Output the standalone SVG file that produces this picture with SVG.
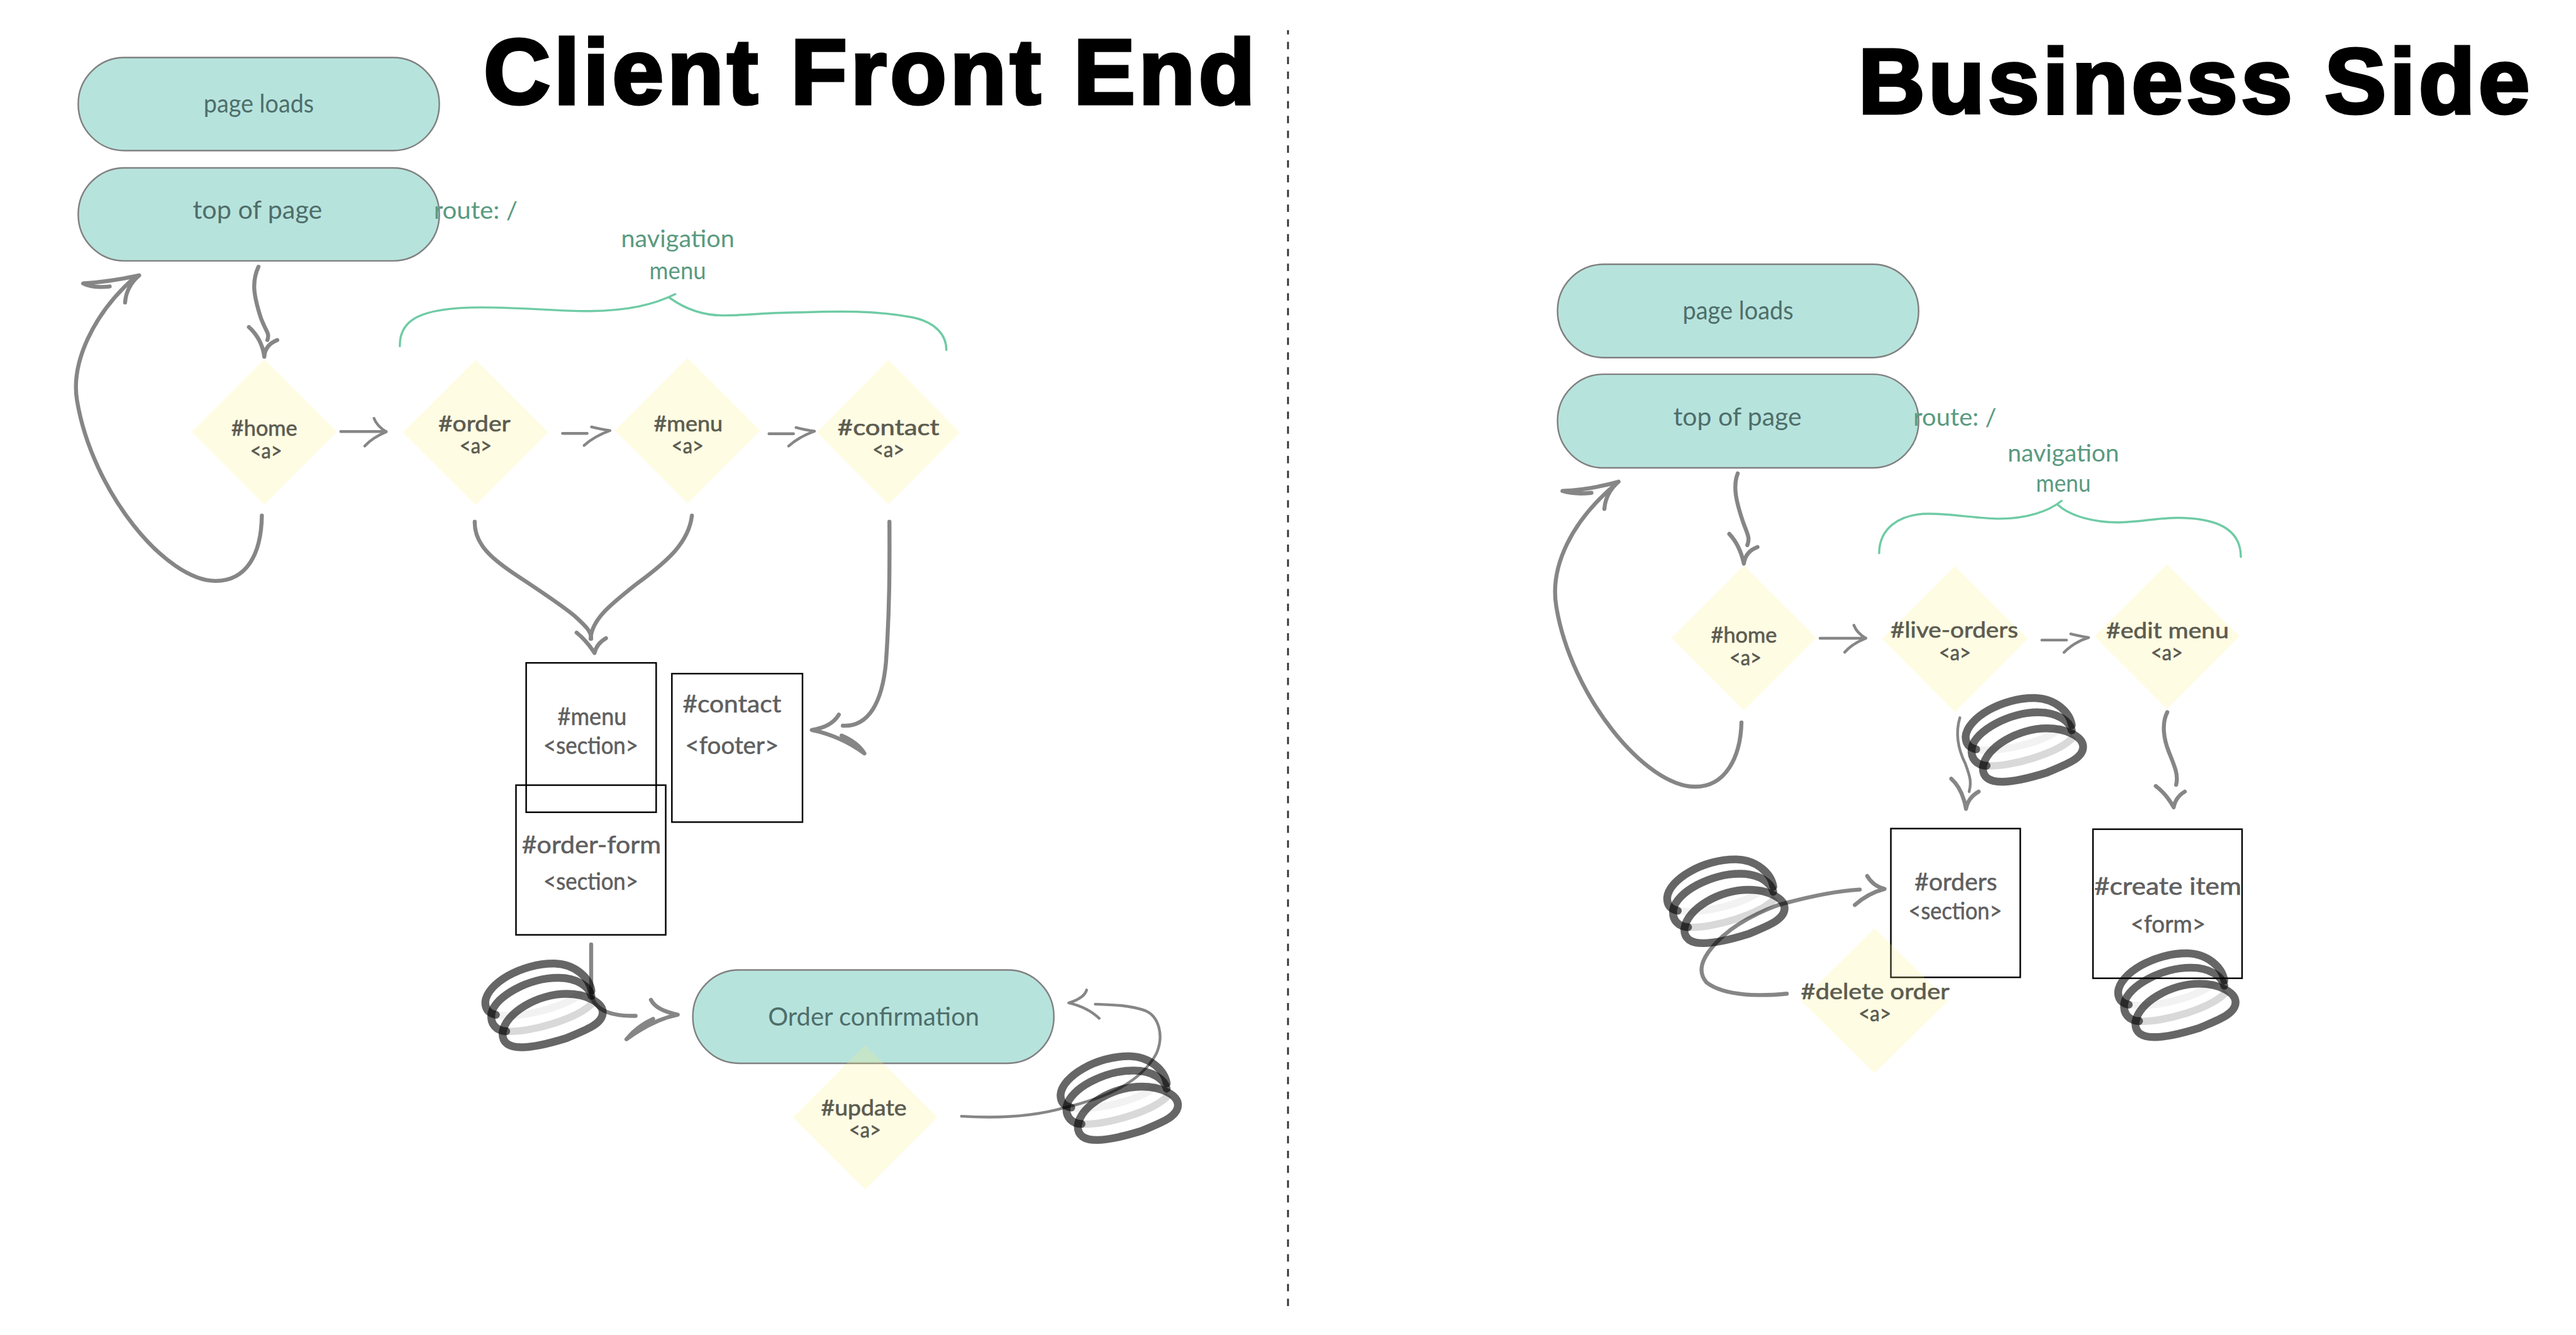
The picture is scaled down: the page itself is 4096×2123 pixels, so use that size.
<svg xmlns="http://www.w3.org/2000/svg" width="4096" height="2123" viewBox="0 0 4096 2123">
<style>
.pill{fill:#b7e3dd;stroke:#808080;stroke-width:2.5}
.dia{fill:#fff176;fill-opacity:.2}
.box{fill:none;stroke:#000;stroke-width:2.5}
.c{fill:none;stroke:#868686;stroke-width:6.5;stroke-linecap:round;stroke-linejoin:round}
.t{stroke-width:4.5}
.b{fill:none;stroke:#6fcba5;stroke-width:3.5;stroke-linecap:round}
.s{fill:none;stroke:#000;stroke-opacity:.6;stroke-width:38;stroke-linecap:round;stroke-linejoin:round}
text{font-family:"Lato","Liberation Sans",sans-serif;font-size:36px;text-anchor:middle}
.tp{fill:#4e6e6a;font-size:42px}
.td{fill:#5c5c50;stroke:#5c5c50;stroke-width:.7}
.tr{fill:#5f5f5f;stroke:#5f5f5f;stroke-width:.6;font-size:40px}
.tg{fill:#5a9a80;font-size:40px}
.title{font-family:"Liberation Sans",Arial,sans-serif;font-weight:700;font-size:150px;fill:#000;stroke:#000;stroke-width:5;text-anchor:start}
</style>
<defs>
<g id="blob" transform="scale(.3333) translate(-370,-306)">
<path d="M130,352C250,370 480,320 570,230" fill="none" stroke="#000" stroke-opacity=".05" stroke-width="36"/>
<path d="M185,432C300,440 540,370 610,290" fill="none" stroke="#000" stroke-opacity=".15" stroke-width="36"/>
<path class="s" d="M135,352C100,345 83,325 83,290C90,200 260,100 420,102C520,105 590,170 600,235"/>
<path class="s" d="M185,432C140,430 105,400 113,345C130,260 300,170 440,172C530,172 590,215 600,260"/>
<path class="s" d="M167,440C180,340 340,250 480,250C570,250 655,290 655,340C655,400 560,430 480,465C400,490 320,510 260,510C200,510 165,490 167,440Z"/>
</g>
</defs>
<rect width="4096" height="2123" fill="#fff"/>
<g transform="scale(.97967)">
<g id="titles">
<text class="title" x="785" y="168.500" textLength="1252" lengthAdjust="spacing">Client Front End</text>
<text class="title" x="3016" y="183.500" textLength="1090" lengthAdjust="spacing">Business Side</text>
<path d="M2090.5,49V2124" fill="none" stroke="#333" stroke-width="3" stroke-dasharray="12 12" stroke-dashoffset="5"/>
</g>
<g id="connectors">
<path class="c" d="M419.5,433C408,458 412,480 423,515C432,540 438,540 434,552M404,531Q425,550 429,579Q430,560 450,552"/>
<path class="c" d="M425,837C424,900 400,943 350,943C270,943 150,800 125,650C115,590 150,510 220,449M178,465Q150,468 135,460Q175,458 226,447Q205,465 203,491"/>
<path class="c t" d="M553,700.5H627M607,679Q612,692 627,701Q605,710 592,724"/>
<path class="c t" d="M913,703.5H953M960,693Q972,696 990,699Q965,708 948,723"/>
<path class="c t" d="M1248,704H1288M1292,694Q1304,697 1322,700Q1297,709 1280,724"/>
<path class="c" d="M770.5,847C770,884 800,908 832.6,930C870,955 915,984 935,1002C950,1016 960,1025 959.5,1037"/>
<path class="c" d="M1123,837C1118,880 1085,910 1031.6,949C990,982 960,1006 958.6,1037M936,1027Q952,1040 965,1060Q968,1045 983.5,1036"/>
<path class="c" d="M1443.6,847C1444,920 1444,990 1438,1075C1432,1140 1410,1180 1368,1178M1361.5,1160Q1350,1180 1317.6,1185Q1365,1195 1403,1223Q1392,1205 1366,1194"/>
<path class="c" d="M959.5,1533V1611C962,1635 982,1650 1031.6,1649M1056.5,1623Q1065,1640 1100,1647Q1060,1655 1016.7,1687Q1035,1665 1060,1654"/>
<path class="c t" d="M1560.5,1812C1610,1815 1670,1815 1728,1798C1790,1783 1850,1760 1877,1710C1890,1680 1880,1650 1860,1641C1835,1632 1810,1631 1777.7,1630M1763.6,1607Q1760,1620 1734.6,1628Q1765,1635 1784,1653"/>
<path class="c" d="M2820.4,768.5C2812,790 2818,815 2830,850C2838,870 2840,875 2836,885M2806.7,866.6Q2824,885 2830.4,915Q2833,895 2852.6,888"/>
<path class="c" d="M2826.5,1172.7C2825,1230 2800,1277 2751.6,1277C2670,1277 2550,1130 2526,985C2515,920 2550,845 2627,782M2583,800Q2555,803 2536,797Q2580,795 2627,782Q2606,800 2604,826"/>
<path class="c t" d="M2954,1036H3028M3009,1015Q3014,1028 3028.5,1036Q3006,1045 2994,1058.7"/>
<path class="c t" d="M3314,1039H3354M3361,1029Q3373,1032 3390,1035Q3367,1042 3350,1059"/>
<path class="c t" d="M3181,1165C3172,1195 3180,1220 3190,1240C3198,1262 3200,1270 3196,1285"/>
<path class="c" d="M3167,1264Q3185,1280 3191,1313Q3194,1295 3211.5,1285"/>
<path class="c" d="M3517.6,1156C3508,1175 3512,1200 3520,1220C3530,1245 3536,1258 3532,1274M3499,1276Q3517,1290 3528,1310.5Q3531,1294 3546,1285"/>
<path class="c" d="M2900,1613C2860,1617 2800,1618 2770,1595C2755,1578 2758,1555 2797,1519C2830,1490 2880,1470 2898,1466C2950,1452 2985,1446 3018.5,1444M3030.6,1422Q3040,1438 3058.7,1443Q3032,1450 3010.5,1469"/>
</g>
<g id="brace-left"><path class="b" d="M649,562C648,520 680,499 781.5,499C860,499 910,506 957,505C1020,504 1060,495 1096,477.5M1087,483.6C1110,500 1140,512 1173,512C1210,512 1250,507 1300,507C1360,505 1420,504 1480,515C1520,523 1536,545 1536,568"/></g>
<g id="brace-right"><path class="b" d="M3050,898C3050,860 3080,834 3130,834C3170,834 3210,842 3245,842C3290,842 3325,830 3346,813M3340.6,820C3360,838 3400,848 3436,848C3470,848 3505,840 3536,840.6C3600,841 3637,860 3637,904"/></g>

<g id="page-loads-left"><rect class="pill" x="127" y="93.500" width="586" height="151" rx="75"/><text class="tp" x="420" y="183" textLength="179" lengthAdjust="spacingAndGlyphs">page loads</text></g>
<g id="top-of-page-left"><rect class="pill" x="127" y="272.500" width="586" height="151" rx="75"/><text class="tp" x="418" y="355" textLength="210" lengthAdjust="spacingAndGlyphs">top of page</text></g>
<g id="route-left"><text class="tg" x="772" y="355" textLength="136" lengthAdjust="spacingAndGlyphs">route: /</text></g>
<g id="nav-left"><text class="tg" x="1100" y="401" textLength="184" lengthAdjust="spacingAndGlyphs">navigation</text><text class="tg" x="1100" y="453" textLength="92" lengthAdjust="spacingAndGlyphs">menu</text></g>
<g id="home-left"><path class="dia" d="M429,583L547,701L429,819L311,701Z"/><text class="td" x="429" y="707" textLength="107" lengthAdjust="spacingAndGlyphs">#home</text><text class="td" x="432" y="744" textLength="52" lengthAdjust="spacingAndGlyphs">&lt;a&gt;</text></g>
<g id="order-left"><path class="dia" d="M772,584L890,702L772,820L654,702Z"/><text class="td" x="770" y="700" textLength="117" lengthAdjust="spacingAndGlyphs">#order</text><text class="td" x="772" y="736" textLength="52" lengthAdjust="spacingAndGlyphs">&lt;a&gt;</text></g>
<g id="menu-left"><path class="dia" d="M1116,581L1234,699L1116,817L998,699Z"/><text class="td" x="1117" y="700" textLength="112" lengthAdjust="spacingAndGlyphs">#menu</text><text class="td" x="1116" y="736" textLength="52" lengthAdjust="spacingAndGlyphs">&lt;a&gt;</text></g>
<g id="contact-left"><path class="dia" d="M1442,584L1558,702L1442,819L1326,702Z"/><text class="td" x="1442" y="706" textLength="165" lengthAdjust="spacingAndGlyphs">#contact</text><text class="td" x="1442" y="742" textLength="52" lengthAdjust="spacingAndGlyphs">&lt;a&gt;</text></g>
<g id="menu-section"><rect class="box" x="854" y="1076" width="211" height="242.5"/><text class="tr" x="961" y="1177" textLength="112" lengthAdjust="spacingAndGlyphs">#menu</text><text class="tr" x="959" y="1224" textLength="154" lengthAdjust="spacingAndGlyphs">&lt;section&gt;</text></g>
<g id="contact-footer"><rect class="box" x="1090.5" y="1093.500" width="212" height="241"/><text class="tr" x="1188" y="1157" textLength="160" lengthAdjust="spacingAndGlyphs">#contact</text><text class="tr" x="1188" y="1224" textLength="152" lengthAdjust="spacingAndGlyphs">&lt;footer&gt;</text></g>
<g id="order-form"><rect class="box" x="837.5" y="1274.500" width="243" height="243"/><text class="tr" x="960" y="1385" textLength="226" lengthAdjust="spacingAndGlyphs">#order-form</text><text class="tr" x="959" y="1444" textLength="154" lengthAdjust="spacingAndGlyphs">&lt;section&gt;</text></g>
<g id="order-confirmation"><rect class="pill" x="1124.5" y="1574.500" width="586" height="151.500" rx="75"/><text class="tp" x="1418" y="1665" textLength="343" lengthAdjust="spacingAndGlyphs">Order confirmation</text></g>
<g id="update"><path class="dia" d="M1404,1696.500L1521.500,1814L1404,1931L1287,1814Z"/><text class="td" x="1402" y="1811" textLength="139" lengthAdjust="spacingAndGlyphs">#update</text><text class="td" x="1404" y="1847" textLength="52" lengthAdjust="spacingAndGlyphs">&lt;a&gt;</text></g>
<use id="db-order" href="#blob" x="883.300" y="1632"/>
<use id="db-update" href="#blob" x="1817" y="1782.500"/>

<g id="page-loads-right"><rect class="pill" x="2528" y="429" width="586" height="151.500" rx="75"/><text class="tp" x="2821" y="519" textLength="180" lengthAdjust="spacingAndGlyphs">page loads</text></g>
<g id="top-of-page-right"><rect class="pill" x="2528" y="607.500" width="586" height="152" rx="75"/><text class="tp" x="2820" y="691" textLength="208" lengthAdjust="spacingAndGlyphs">top of page</text></g>
<g id="route-right"><text class="tg" x="3173" y="691" textLength="135" lengthAdjust="spacingAndGlyphs">route: /</text></g>
<g id="nav-right"><text class="tg" x="3349" y="749" textLength="181" lengthAdjust="spacingAndGlyphs">navigation</text><text class="tg" x="3349" y="798" textLength="89" lengthAdjust="spacingAndGlyphs">menu</text></g>
<g id="home-right"><path class="dia" d="M2830.500,918L2948,1035.500L2830.500,1153L2713,1035.500Z"/><text class="td" x="2830.500" y="1043" textLength="107" lengthAdjust="spacingAndGlyphs">#home</text><text class="td" x="2833" y="1080" textLength="52" lengthAdjust="spacingAndGlyphs">&lt;a&gt;</text></g>
<g id="live-orders"><path class="dia" d="M3173,919L3291,1037L3173,1156L3055,1037Z"/><text class="td" x="3172" y="1035.500" textLength="207" lengthAdjust="spacingAndGlyphs">#live-orders</text><text class="td" x="3173" y="1072" textLength="52" lengthAdjust="spacingAndGlyphs">&lt;a&gt;</text></g>
<g id="edit-menu"><path class="dia" d="M3517,916L3635,1033L3517,1151L3399.500,1033Z"/><text class="td" x="3518" y="1036" textLength="199" lengthAdjust="spacingAndGlyphs">#edit menu</text><text class="td" x="3517" y="1072" textLength="52" lengthAdjust="spacingAndGlyphs">&lt;a&gt;</text></g>
<g id="orders-section"><rect class="box" x="3069" y="1345" width="210" height="241.500"/><text class="tr" x="3174.500" y="1445" textLength="134" lengthAdjust="spacingAndGlyphs">#orders</text><text class="tr" x="3173.500" y="1492.500" textLength="152" lengthAdjust="spacingAndGlyphs">&lt;section&gt;</text></g>
<g id="create-item"><rect class="box" x="3397" y="1346" width="242" height="242"/><text class="tr" x="3518.500" y="1453" textLength="239" lengthAdjust="spacingAndGlyphs">#create item</text><text class="tr" x="3519" y="1513.500" textLength="122" lengthAdjust="spacingAndGlyphs">&lt;form&gt;</text></g>
<g id="delete-order"><path class="dia" d="M3042.500,1507L3162,1624.500L3042.500,1742L2923,1624.500Z"/><text class="td" x="3043.500" y="1621.500" textLength="241" lengthAdjust="spacingAndGlyphs">#delete order</text><text class="td" x="3043" y="1658" textLength="53" lengthAdjust="spacingAndGlyphs">&lt;a&gt;</text></g>
<use id="db-live" href="#blob" x="3286" y="1201"/>
<use id="db-delete" href="#blob" x="2801.500" y="1463"/>
<use id="db-create" href="#blob" x="3533.500" y="1615.500"/>
</g>
</svg>
